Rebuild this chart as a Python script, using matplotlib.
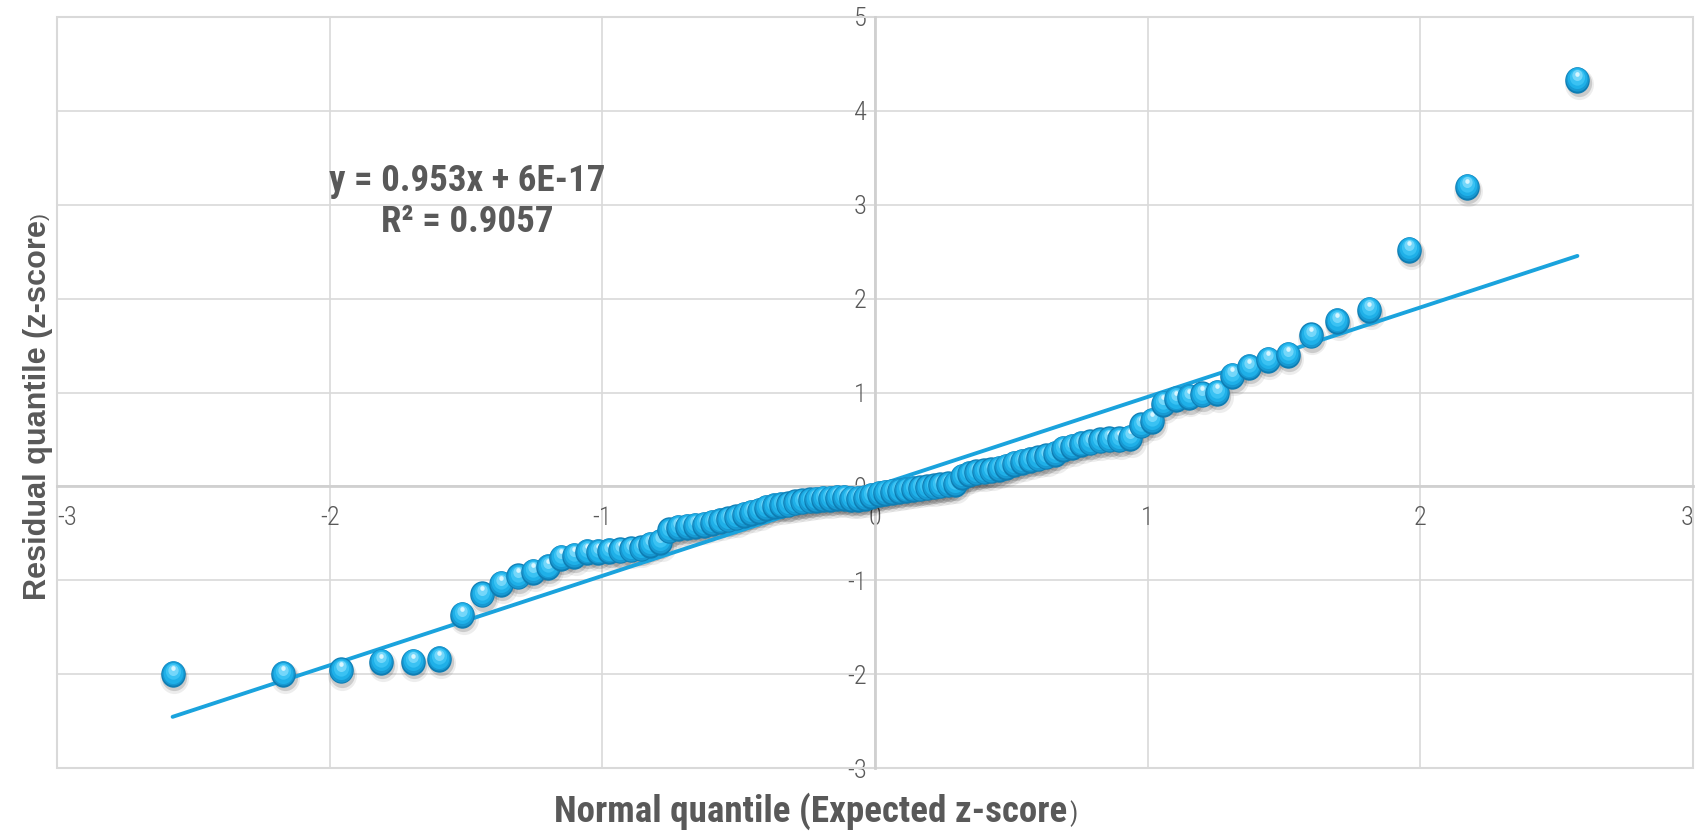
import matplotlib
matplotlib.use("Agg")
import matplotlib.pyplot as plt
from matplotlib import font_manager
from matplotlib.transforms import offset_copy, Affine2D
from matplotlib.path import Path
from matplotlib.patches import Rectangle

# ------------------------------------------------------------------
# DATA
# ------------------------------------------------------------------
NORMAL_Q = [
    -2.576, -2.170, -1.960, -1.812, -1.695, -1.598, -1.514, -1.440, -1.372, -1.311,
    -1.254, -1.200, -1.150, -1.103, -1.058, -1.015, -0.974, -0.935, -0.896, -0.860,
    -0.824, -0.789, -0.755, -0.722, -0.690, -0.659, -0.628, -0.598, -0.568, -0.539,
    -0.510, -0.482, -0.454, -0.426, -0.399, -0.372, -0.345, -0.319, -0.292, -0.266,
    -0.240, -0.215, -0.189, -0.164, -0.138, -0.113, -0.088, -0.063, -0.038, -0.013,
    0.013, 0.038, 0.063, 0.088, 0.113, 0.138, 0.164, 0.189, 0.215, 0.240,
    0.266, 0.292, 0.319, 0.345, 0.372, 0.399, 0.426, 0.454, 0.482, 0.510,
    0.539, 0.568, 0.598, 0.628, 0.659, 0.690, 0.722, 0.755, 0.789, 0.824,
    0.860, 0.896, 0.935, 0.974, 1.015, 1.058, 1.103, 1.150, 1.200, 1.254,
    1.311, 1.372, 1.440, 1.514, 1.598, 1.695, 1.812, 1.960, 2.170, 2.576,
]
RESID_Q = [
    -2.00, -2.00, -1.96, -1.87, -1.87, -1.84, -1.37, -1.15, -1.04, -0.96,
    -0.91, -0.86, -0.76, -0.74, -0.70, -0.70, -0.69, -0.68, -0.67, -0.66,
    -0.62, -0.59, -0.47, -0.44, -0.43, -0.42, -0.41, -0.39, -0.37, -0.35,
    -0.33, -0.30, -0.28, -0.26, -0.23, -0.21, -0.20, -0.19, -0.17, -0.16,
    -0.15, -0.14, -0.13, -0.13, -0.12, -0.12, -0.13, -0.13, -0.12, -0.10,
    -0.08, -0.07, -0.06, -0.05, -0.04, -0.03, -0.02, -0.01, 0.00, 0.01,
    0.02, 0.03, 0.10, 0.13, 0.15, 0.16, 0.17, 0.19, 0.21, 0.24,
    0.26, 0.28, 0.30, 0.32, 0.35, 0.40, 0.42, 0.45, 0.47, 0.49,
    0.50, 0.50, 0.52, 0.65, 0.70, 0.88, 0.93, 0.95, 0.98, 1.00,
    1.18, 1.27, 1.35, 1.40, 1.61, 1.76, 1.88, 2.52, 3.19, 4.33,
]
SLOPE = 0.953
INTERCEPT = 6e-17
R2 = 0.9057
X_TICKS = [-3, -2, -1, 0, 1, 2, 3]
Y_TICKS = [-3, -2, -1, 0, 1, 2, 3, 4, 5]

# ------------------------------------------------------------------
# STYLE
# ------------------------------------------------------------------
available = {f.name for f in font_manager.fontManager.ttflist}
def pick(*names):
    for n in names:
        if n in available:
            return n
    return "DejaVu Sans"

NARROW = pick("Liberation Sans Narrow", "Roboto Condensed", "DejaVu Sans Condensed",
              "Open Sans Condensed", "Lato", "Open Sans")
TICKF = pick("Liberation Sans Narrow", "Roboto Condensed", "Open Sans")
WIDE = pick("Liberation Sans", "DejaVu Sans")
TXT = "#595959"
GRID = "#D9D9D9"
LINE_C = "#1AA3DD"

plt.rcParams["axes.unicode_minus"] = False

fig = plt.figure(figsize=(17.04, 8.36), dpi=100)
ax = fig.add_axes([57 / 1704, 68 / 836, 1636 / 1704, 751 / 836])
ax.set_xlim(X_TICKS[0], X_TICKS[-1])
ax.set_ylim(Y_TICKS[0], Y_TICKS[-1])

ax.set_xticks(X_TICKS, [str(v) for v in X_TICKS])
ax.set_yticks(Y_TICKS, [str(v) for v in Y_TICKS])
ax.grid(True, color=GRID, lw=1.2, zorder=0)
ax.set_axisbelow(True)

# axes cross at the origin, like Excel
for s in ["top", "right"]:
    ax.spines[s].set_visible(False)
ax.spines["left"].set_position(("data", 0))
ax.spines["bottom"].set_position(("data", 0))
for s in ["left", "bottom"]:
    ax.spines[s].set_color("#D0D0D0")
    ax.spines[s].set_linewidth(2.0)
ax.add_patch(Rectangle((0, 0), 1, 1, transform=ax.transAxes, fill=False,
                       ec=GRID, lw=1.5, clip_on=False, zorder=1))
ax.tick_params(axis="both", length=0, colors=TXT, labelsize=19)
ax.tick_params(axis="x", pad=14)
ax.tick_params(axis="y", pad=6)
for lab in ax.get_xticklabels() + ax.get_yticklabels():
    lab.set_fontfamily(TICKF)
    lab.set_fontweight("light")
xlabs = ax.get_xticklabels()
xlabs[0].set_ha("left")
xlabs[-1].set_ha("right")

# trend line
x0, x1 = min(NORMAL_Q), max(NORMAL_Q)
ax.plot([x0, x1], [SLOPE * x0 + INTERCEPT, SLOPE * x1 + INTERCEPT],
        color=LINE_C, lw=2.8, solid_capstyle="round", zorder=5)

# sphere-looking markers (shadow, then layered gradient per point)
ell = Path.unit_circle().transformed(Affine2D().scale(0.93, 1.0))
D = 19.0
shadows = [(1.2, -3.0, 1.18, "#000000", 0.07), (0.9, -2.4, 1.03, "#000000", 0.14)]
layers = [
    (0.0, 0.0, 1.00, "#0E7DB3"),
    (0.0, 0.5, 0.92, "#1799D2"),
    (0.0, 1.1, 0.80, "#1FB0E8"),
    (0.0, 2.0, 0.62, "#3AC2F3"),
    (0.0, 3.2, 0.42, "#74D7FA"),
    (0.0, 4.6, 0.18, "#D8F6FF"),
]
for dx, dy, f, c, a in shadows:
    tr = offset_copy(ax.transData, fig=fig, x=dx, y=dy, units="points")
    ax.scatter(NORMAL_Q, RESID_Q, s=(D * f) ** 2, marker=ell, color=c, alpha=a,
               lw=0, transform=tr, zorder=3)

trs = [offset_copy(ax.transData, fig=fig, x=dx, y=dy, units="points") for dx, dy, _, _ in layers]
z = 6
for xv, yv in zip(NORMAL_Q, RESID_Q):
    for (dx, dy, f, c), tr in zip(layers, trs):
        ax.scatter([xv], [yv], s=(D * f) ** 2, marker=ell, color=c, lw=0,
                   transform=tr, zorder=z)
        z += 0.001

fig.canvas.draw()
rend = fig.canvas.get_renderer()
W, H = fig.bbox.width, fig.bbox.height

def fit(t, target, vertical=False):
    bb = t.get_window_extent(rend)
    cur = bb.height if vertical else bb.width
    t.set_fontsize(t.get_fontsize() * target / cur)

# equation label
eq = fig.text(0.274, 0.759, f"y = {SLOPE}x + 6E-17\nR² = {R2}", ha="center", va="center",
              fontsize=26, fontweight="bold", color=TXT, family=NARROW, linespacing=1.2)
fit(eq, 277)

# axis titles, the closing bracket is smaller in the original
xl = fig.text(0.476, 0.0175, "Normal quantile (Expected z-score", ha="center", va="baseline",
              fontsize=27, fontweight="bold", color=TXT, family=NARROW)
fit(xl, 514)
bb = xl.get_window_extent(rend)
fig.text(bb.x1 / W + 0.001, 0.0175, ")", ha="left", va="baseline",
         fontsize=xl.get_fontsize() * 0.7, color=TXT, family=NARROW)

yl = fig.text(0.027, 0.509, "Residual quantile (z-score", ha="center", va="baseline",
              rotation=90, rotation_mode="anchor",
              fontsize=23, fontweight="bold", color=TXT, family=WIDE)
fit(yl, 380, vertical=True)
bb = yl.get_window_extent(rend)
fig.text(0.027, bb.y1 / H + 0.001, ")", ha="left", va="baseline", rotation=90,
         rotation_mode="anchor", fontsize=yl.get_fontsize() * 0.68, color=TXT, family=WIDE)

fig.savefig("out.png", dpi=100)
